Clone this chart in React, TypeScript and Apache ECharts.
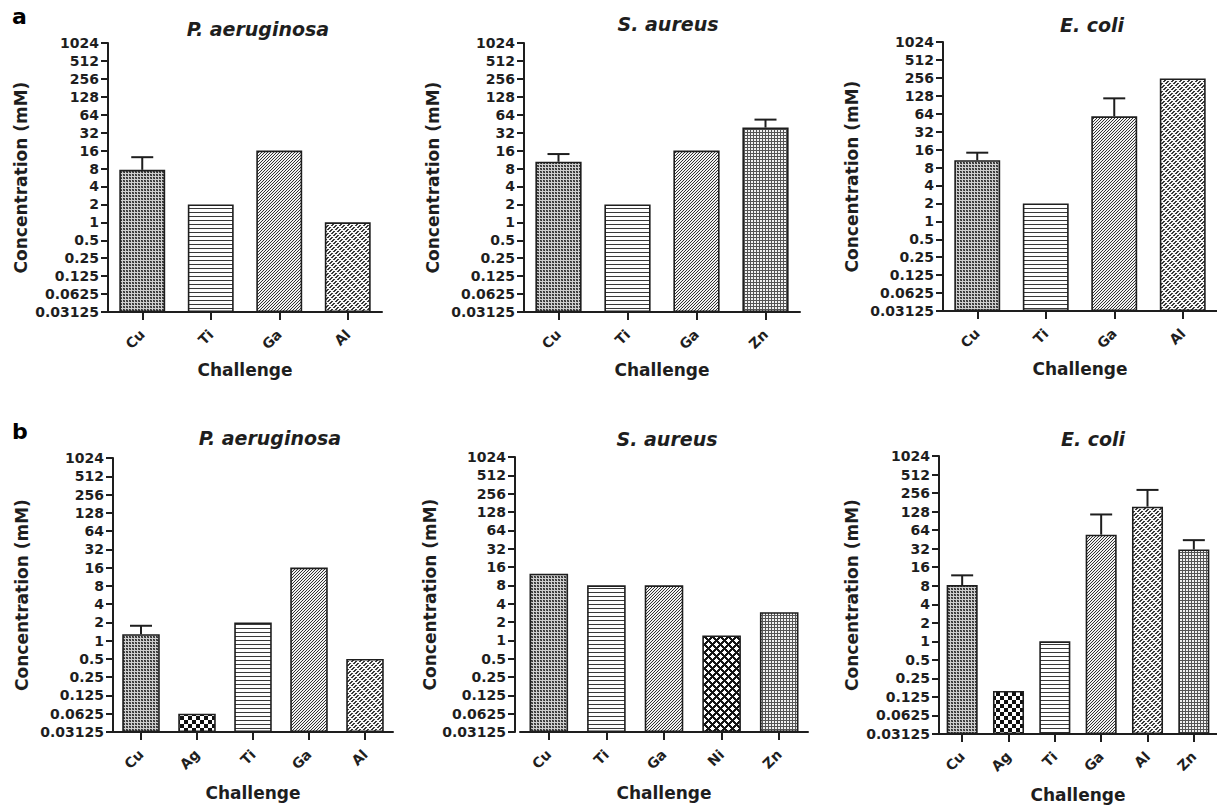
import React, { useEffect, useRef } from 'react';
import * as echarts from 'echarts';

// ---- data ----
const yTickValues = [0.03125, 0.0625, 0.125, 0.25, 0.5, 1, 2, 4, 8, 16, 32, 64, 128, 256, 512, 1024];

const aPaCats = ['Cu', 'Ti', 'Ga', 'Al'];
const aPaVals = [7.6, 2, 16, 1];
const aPaErr = [12.4, null, null, null];

const aSaCats = ['Cu', 'Ti', 'Ga', 'Zn'];
const aSaVals = [10.4, 2, 16, 39];
const aSaErr = [14, null, null, 53];

const aEcCats = ['Cu', 'Ti', 'Ga', 'Al'];
const aEcVals = [10.6, 2, 58, 250];
const aEcErr = [14.2, null, 116, null];

const bPaCats = ['Cu', 'Ag', 'Ti', 'Ga', 'Al'];
const bPaVals = [1.28, 0.0625, 2, 16, 0.5];
const bPaErr = [1.76, null, null, null, null];

const bSaCats = ['Cu', 'Ti', 'Ga', 'Ni', 'Zn'];
const bSaVals = [12.4, 8, 8, 1.2, 2.9];
const bSaErr = [null, null, null, null, null];

const bEcCats = ['Cu', 'Ag', 'Ti', 'Ga', 'Al', 'Zn'];
const bEcVals = [8.2, 0.156, 1, 54, 154, 31];
const bEcErr = [11.8, null, null, 115, 288, 44];

const speciesTitles = ['P. aeruginosa', 'S. aureus', 'E. coli', 'P. aeruginosa', 'S. aureus', 'E. coli'];
const panelLetters = ['a', 'b'];
const yAxisName = 'Concentration (mM)';
const xAxisName = 'Challenge';

const panels = [
  { cats: aPaCats, vals: aPaVals, err: aPaErr },
  { cats: aSaCats, vals: aSaVals, err: aSaErr },
  { cats: aEcCats, vals: aEcVals, err: aEcErr },
  { cats: bPaCats, vals: bPaVals, err: bPaErr },
  { cats: bSaCats, vals: bSaVals, err: bSaErr },
  { cats: bEcCats, vals: bEcVals, err: bEcErr },
];

// ---- layout ----
const layout = [
  { left: 108, top: 43, width: 274, height: 269, titleX: 253, titleY: 14, yOff: 0, gapY: 79, gapX: 49 },
  { left: 524, top: 43, width: 276, height: 269, titleX: 663, titleY: 9, yOff: 0, gapY: 83, gapX: 49 },
  { left: 943, top: 42, width: 275, height: 269, titleX: 1087, titleY: 10, yOff: 0, gapY: 83, gapX: 49 },
  { left: 113, top: 458, width: 280, height: 274, titleX: 265, titleY: 423, yOff: 0, gapY: 83, gapX: 52 },
  { left: 520, top: 457, width: 288, height: 275, titleX: 662, titleY: 424, yOff: 5, gapY: 74, gapX: 52 },
  { left: 939, top: 456, width: 287, height: 278, titleX: 1088, titleY: 424, yOff: 0, gapY: 79, gapX: 52 },
];

const FONT = '"DejaVu Sans", Arial, sans-serif';
const INK = '#1e1e1e';

function makeTile(w: number, h: number, fn: (x: number, y: number) => string | null, bg: string) {
  const c = document.createElement('canvas');
  c.width = w;
  c.height = h;
  const ctx = c.getContext('2d')!;
  ctx.fillStyle = bg;
  ctx.fillRect(0, 0, w, h);
  for (let y = 0; y < h; y++) {
    for (let x = 0; x < w; x++) {
      const col = fn(x, y);
      if (col) {
        ctx.fillStyle = col;
        ctx.fillRect(x, y, 1, 1);
      }
    }
  }
  return { image: c.toDataURL(), repeat: 'repeat', imageWidth: w, imageHeight: h };
}

function buildPatterns(): Record<string, any> {
  return {
    Cu: makeTile(3, 3, (x, y) => (x < 2 && y < 2 ? (x === y ? '#2e2e2e' : '#5a5a5a') : null), '#cfcfcf'),
    Ti: makeTile(4, 4, (x, y) => (y === 0 ? '#3a3a3a' : null), '#ffffff'),
    Ga: makeTile(3, 3, (x, y) => ((x + y) % 3 === 2 ? '#333333' : null), '#f2f2f2'),
    Al: makeTile(8, 8, (x, y) => ((x + y) % 4 < 2 && ((x - y + 16) % 8) >= 2 ? '#3a3a3a' : null), '#f8f8f8'),
    Zn: makeTile(3, 3, (x, y) => (x === 0 || y === 0 ? '#555555' : null), '#f2f2f2'),
    Ag: makeTile(8, 8, (x, y) => ((Math.floor(x / 4) + Math.floor(y / 4)) % 2 === 0 ? '#111111' : null), '#ffffff'),
    Ni: makeTile(8, 8, (x, y) => {
      const dc = Math.abs(x - 4) + Math.abs(y - 4);
      const dx0 = Math.min(x, 8 - x);
      const dy0 = Math.min(y, 8 - y);
      const dk = dx0 + dy0;
      return dc <= 2 || dk <= 2 ? null : '#141414';
    }, '#ffffff'),
  };
}

function fmtPow2(v: number) {
  const e = Math.round(Math.log2(v));
  return String(Math.pow(2, e));
}

export default function App() {
  const ref = useRef<HTMLDivElement>(null);
  useEffect(() => {
    if (!ref.current) return;
    const chart = echarts.init(ref.current, undefined, { renderer: 'svg' });
    const pat = buildPatterns();

    const grid: any[] = [];
    const xAxis: any[] = [];
    const yAxis: any[] = [];
    const series: any[] = [];
    const title: any[] = [];

    panels.forEach((p, i) => {
      const L = layout[i];
      grid.push({ left: L.left, top: L.top, width: L.width, height: L.height, containLabel: false });
      xAxis.push({
        type: 'category',
        gridIndex: i,
        data: p.cats,
        name: xAxisName,
        nameLocation: 'middle',
        nameGap: L.gapX,
        nameTextStyle: { fontFamily: FONT, fontWeight: 'bold', fontSize: 17, color: INK },
        axisLine: { show: true, lineStyle: { color: INK, width: 2 } },
        axisTick: { show: true, alignWithLabel: true, length: 8, lineStyle: { color: INK, width: 2 } },
        axisLabel: { rotate: 45, margin: 20, fontFamily: FONT, fontWeight: 'bold', fontSize: 14, color: INK },
        splitLine: { show: false },
      });
      yAxis.push({
        type: 'log',
        logBase: 2,
        gridIndex: i,
        min: yTickValues[0],
        max: yTickValues[yTickValues.length - 1],
        startValue: yTickValues[0],
        interval: 1,
        splitNumber: yTickValues.length - 1,
        offset: L.yOff,
        name: yAxisName,
        nameLocation: 'middle',
        nameRotate: 90,
        nameGap: L.gapY,
        nameTextStyle: { fontFamily: FONT, fontWeight: 'bold', fontSize: 17, color: INK },
        axisLine: { show: true, lineStyle: { color: INK, width: 2 } },
        axisTick: { show: true, length: 7, lineStyle: { color: INK, width: 2 } },
        axisLabel: { margin: 9, fontFamily: FONT, fontWeight: 'bold', fontSize: 14, color: INK, formatter: fmtPow2, showMinLabel: true, showMaxLabel: true, hideOverlap: false },
        splitLine: { show: false },
      });
      series.push({
        type: 'bar',
        xAxisIndex: i,
        yAxisIndex: i,
        barCategoryGap: '33%',
        data: p.vals.map((v, k) => ({
          value: v,
          itemStyle: { color: pat[p.cats[k]], borderColor: INK, borderWidth: 1.6 },
        })),
      });
      const errData = p.err
        .map((e, k) => (e == null ? null : [k, p.vals[k], e]))
        .filter((d) => d != null);
      if (errData.length) {
        series.push({
          type: 'custom',
          xAxisIndex: i,
          yAxisIndex: i,
          encode: { x: 0, y: [1, 2] },
          data: errData,
          z: 5,
          renderItem: (params: any, api: any) => {
            const k = api.value(0);
            const base = api.coord([k, api.value(1)]);
            const top = api.coord([k, api.value(2)]);
            const half = 11;
            return {
              type: 'group',
              children: [
                { type: 'line', shape: { x1: base[0], y1: base[1], x2: top[0], y2: top[1] }, style: { stroke: INK, lineWidth: 2 } },
                { type: 'line', shape: { x1: top[0] - half, y1: top[1], x2: top[0] + half, y2: top[1] }, style: { stroke: INK, lineWidth: 2 } },
              ],
            };
          },
        });
      }
      title.push({
        text: speciesTitles[i],
        left: L.titleX,
        top: L.titleY,
        textAlign: 'center',
        textStyle: { fontFamily: FONT, fontWeight: 'bold', fontStyle: 'italic', fontSize: 19, color: INK },
      });
    });
    title.push({ text: panelLetters[0], left: 7, top: 0, textStyle: { fontFamily: FONT, fontWeight: 'bold', fontSize: 22, color: '#000' } });
    title.push({ text: panelLetters[1], left: 7, top: 415, textStyle: { fontFamily: FONT, fontWeight: 'bold', fontSize: 22, color: '#000' } });

    chart.setOption({
      animation: false,
      backgroundColor: '#ffffff',
      title,
      grid,
      xAxis,
      yAxis,
      series,
    });
    return () => chart.dispose();
  }, []);
  return <div ref={ref} style={{ position: 'absolute', left: 0, top: 0, width: 1217, height: 807 }} />;
}
